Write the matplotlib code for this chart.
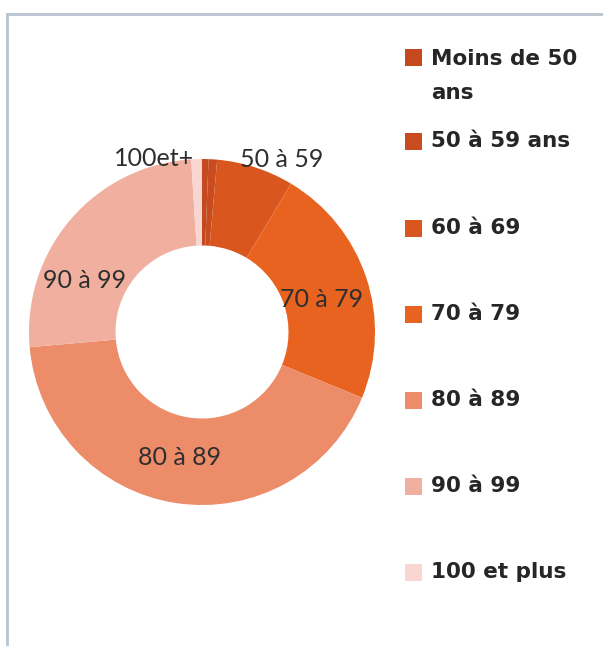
import matplotlib
matplotlib.use('Agg')
import matplotlib.pyplot as plt
from matplotlib.patches import Rectangle
from matplotlib.lines import Line2D

categories = ['Moins de 50\nans', '50 à 59 ans', '60 à 69', '70 à 79', '80 à 89', '90 à 99', '100 et plus']
shares = [0.6, 0.8, 7.2, 22.6, 42.4, 25.4, 1.0]
colors = ['#C4491F', '#C94C20', '#D9561F', '#E8631F', '#EC8C68', '#F1B09F', '#F9D6D2']

# data labels shown on the chart (only some of them)
label_texts = ['100et+', '50 à 59', '70 à 79', '90 à 99', '80 à 89']
label_pos = [(-0.28, 1.0), (0.46, 0.995), (0.69, 0.185), (-0.676, 0.30), (-0.127, -0.723)]

fig = plt.figure(figsize=(6.03, 6.46), dpi=100)

# donut
ax = fig.add_axes([29 / 603, 141 / 646, 346 / 603, 346 / 646])
ax.pie(shares, colors=colors, startangle=90, counterclock=False, radius=1,
       wedgeprops=dict(width=0.5, edgecolor='none'))
ax.set_xlim(-1, 1)
ax.set_ylim(-1, 1)
ax.set_aspect('equal')
ax.axis('off')

for txt, (x, y) in zip(label_texts, label_pos):
    ax.text(x, y, txt, ha='center', va='center', fontsize=18, color='#2E2E2E',
            family='Lato')

# legend drawn by hand, one row per category
row_y = [57, 141, 228, 314, 400, 486, 572]
for cat, col, yy in zip(categories, colors, row_y):
    fy = 1 - yy / 646
    fig.patches.append(Rectangle((405 / 603, fy - 9 / 646), 17 / 603, 17 / 646,
                                 transform=fig.transFigure, facecolor=col, edgecolor='none'))
    if '\n' in cat:
        # two line entry: centre the block between both lines
        ty = fy - 19 / 646
    else:
        ty = fy
    fig.text(431 / 603, ty, cat, ha='left', va='center',
             fontsize=15.5, fontweight='bold', color='#262626', family='DejaVu Sans',
             linespacing=1.9)

# the frame lines at top and left
fig.lines.append(Line2D([7 / 603, 1], [1 - 14 / 646, 1 - 14 / 646], transform=fig.transFigure,
                        color='#B9C4CF', lw=2))
fig.lines.append(Line2D([7 / 603, 7 / 603], [0, 1 - 14 / 646], transform=fig.transFigure,
                        color='#B9C4CF', lw=2))

fig.savefig('out.png', dpi=100)
